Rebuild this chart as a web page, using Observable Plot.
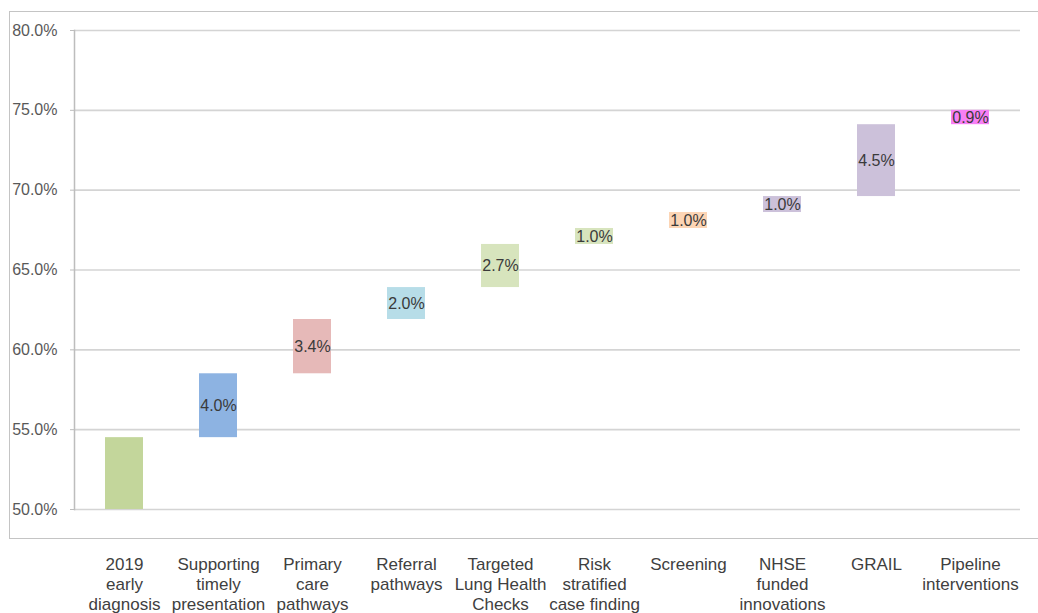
<!DOCTYPE html>
<html>
<head>
<meta charset="utf-8">
<script src="https://cdn.jsdelivr.net/npm/d3@7"></script>
<script src="https://cdn.jsdelivr.net/npm/@observablehq/plot@0.6"></script>
<style>
  html, body { margin: 0; padding: 0; background: #fff; }
  #wrap { position: relative; width: 1038px; height: 613px; overflow: hidden; }
  #border { position: absolute; left: 9px; top: 11px; width: 1100px; height: 528px; border: 1.5px solid #c4c4c4; box-sizing: border-box; }
  #chart { position: absolute; left: 0; top: 0; }
</style>
</head>
<body>
<div id="wrap"><div id="border"></div><div id="chart"></div></div>
<script>
const categories = ["2019 early diagnosis", "Supporting timely presentation", "Primary care pathways", "Referral pathways", "Targeted Lung Health Checks", "Risk stratified case finding", "Screening", "NHSE funded innovations", "GRAIL", "Pipeline interventions"];
const tickLabels = ["2019\nearly\ndiagnosis", "Supporting\ntimely\npresentation", "Primary\ncare\npathways", "Referral\npathways", "Targeted\nLung Health\nChecks", "Risk\nstratified\ncase finding", "Screening", "NHSE\nfunded\ninnovations", "GRAIL", "Pipeline\ninterventions"];
const increments = [54.5, 4.0, 3.4, 2.0, 2.7, 1.0, 1.0, 1.0, 4.5, 0.9];
const yTicks = [50, 55, 60, 65, 70, 75, 80];
const barColors = ["#c3d69b", "#8db3e2", "#e6b9b8", "#b7dde8", "#d7e4bd", "#d7e4bd", "#fcd5b5", "#ccc1da", "#ccc1da", "#f77ff5"];

let cum = 0;
const rows = categories.map((c, i) => {
  const y1 = cum; cum += increments[i];
  return {cat: c, y1, y2: cum, inc: increments[i], i};
});
const labelMap = new Map(categories.map((c, i) => [c, tickLabels[i]]));

const chart = Plot.plot({
  width: 1038,
  height: 613,
  marginLeft: 74,
  marginRight: 18,
  marginTop: 30,
  marginBottom: 104,
  style: {fontFamily: "'Liberation Sans', Arial, sans-serif", background: "transparent"},
  x: {domain: categories, paddingInner: 0.6, paddingOuter: 0.3, axis: null},
  y: {domain: [50, 80], axis: null},
  color: {domain: categories, range: barColors},
  marks: [
    Plot.gridY(yTicks, {stroke: "#d4d4d4", strokeOpacity: 1, strokeWidth: 1.6}),
    Plot.frame({anchor: "left", stroke: "#bdbdbd", strokeWidth: 1.5}),
    Plot.axisY(yTicks, {tickFormat: d => d.toFixed(1) + "%", tickSize: 4, tickPadding: 13, stroke: "#bdbdbd", fill: "#595959", fontSize: 16, label: null}),
    Plot.barY(rows, {x: "cat", y1: "y1", y2: "y2", fill: "cat", clip: true}),
    Plot.text(rows.filter(d => d.i > 0), {x: "cat", y: d => (d.y1 + d.y2) / 2, text: d => d.inc.toFixed(1) + "%", fill: "#3a3a3a", fontSize: 16}),
    Plot.axisX({tickSize: 0, tickPadding: 46, tickFormat: d => labelMap.get(d), fill: "#404040", fontSize: 17, lineHeight: 1.18, label: null})
  ]
});
document.getElementById("chart").appendChild(chart);
</script>
</body>
</html>
